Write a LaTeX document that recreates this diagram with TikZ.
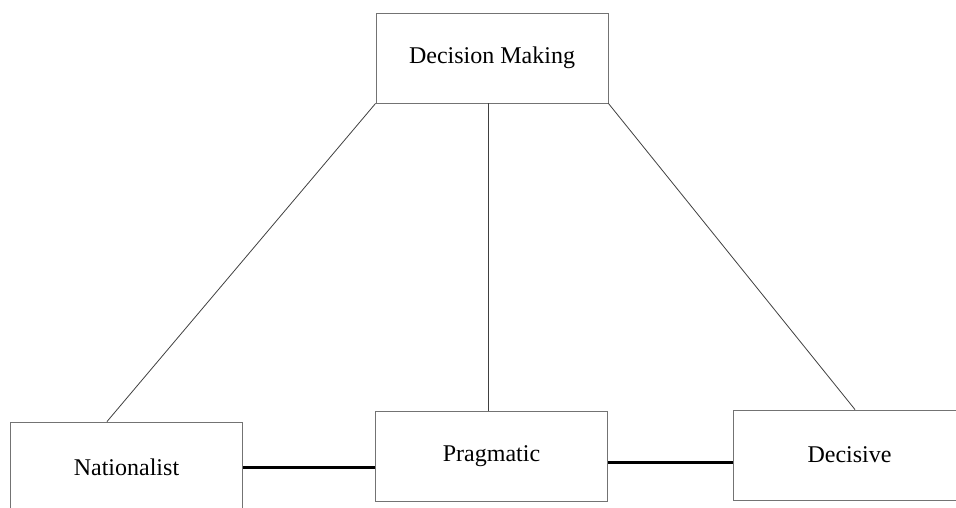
\documentclass[tikz,border=0pt]{standalone}
\usepackage{fontspec}
\setmainfont{Liberation Serif}
\begin{document}
\begin{tikzpicture}[x=1pt, y=-1pt,
  trait/.style={draw=black!55, line width=0.9pt, minimum width=232pt, minimum height=90pt, font=\fontsize{24}{29}\selectfont, inner sep=0pt},
  link/.style={draw=black!75, line width=0.8pt},
  bond/.style={draw=black, line width=3pt}]
\useasboundingbox (0,0) rectangle (956,507);
\clip (0,0) rectangle (956,507);
\node[trait] (dm) at (492,58) {Decision Making};
\node[trait] (nat) at (126.5,467) {Nationalist};
\node[trait] (prag) at (491.5,456) {Pragmatic};
\node[trait] (dec) at (849.5,455) {Decisive};
\draw[link] (dm.south west) -- ([xshift=-19.5pt]nat.north);
\draw[link] ([xshift=-4pt]dm.south) -- ([xshift=-3.5pt]prag.north);
\draw[link] (dm.south east) -- ([xshift=5.5pt]dec.north);
\draw[bond] (nat.east) -- (nat.east -| prag.west);
\draw[bond] ([yshift=-6pt]prag.east) -- ([yshift=-6pt]prag.east -| dec.west);
\end{tikzpicture}
\end{document}
